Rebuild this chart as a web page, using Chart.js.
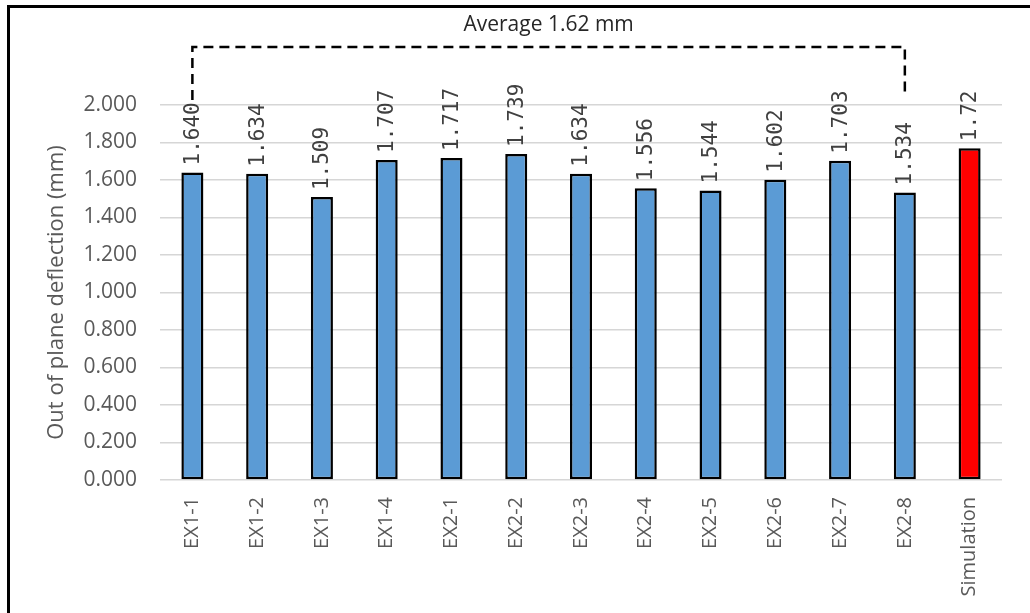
<!DOCTYPE html>
<html lang="en">
<head>
    <meta charset="UTF-8">
    <title>Out of plane deflection</title>
    <script src="https://cdn.jsdelivr.net/npm/chart.js"></script>
    <style>
        body { margin: 0; background: #fff; }
        .wrap {
            position: relative;
            width: 1030px;
            height: 613px;
            overflow: hidden;
        }
        .frame {
            position: absolute;
            left: 7px;
            top: 5px;
            width: 1100px;
            height: 700px;
            border-left: 3px solid #000;
            border-top: 3px solid #000;
            pointer-events: none;
        }
        #deflectionChart { position: absolute; left: 0; top: 0; }
    </style>
</head>
<body>
    <div class="wrap">
        <canvas id="deflectionChart" width="1030" height="613"></canvas>
        <div class="frame"></div>
    </div>
    <script>
        // specimens + simulation
        var categories = ['EX1-1', 'EX1-2', 'EX1-3', 'EX1-4', 'EX2-1', 'EX2-2', 'EX2-3',
                          'EX2-4', 'EX2-5', 'EX2-6', 'EX2-7', 'EX2-8', 'Simulation'];
        var deflection = [1.640, 1.634, 1.509, 1.707, 1.717, 1.739, 1.634,
                          1.556, 1.544, 1.602, 1.703, 1.534, 1.77];
        var valueLabels = ['1.640', '1.634', '1.509', '1.707', '1.717', '1.739', '1.634',
                           '1.556', '1.544', '1.602', '1.703', '1.534', '1.72'];
        var averageText = 'Average 1.62 mm';
        var bracketFrom = 0, bracketTo = 11;  // category indexes spanned by the average bracket

        var barColors = categories.map(function (c) {
            return c === 'Simulation' ? '#ff0000' : '#5b9bd5';
        });

        // rotated value labels above every bar
        var valueLabelPlugin = {
            id: 'valueLabels',
            afterDatasetsDraw: function (chart) {
                var ctx = chart.ctx;
                var meta = chart.getDatasetMeta(0);
                ctx.save();
                ctx.fillStyle = '#404040';
                ctx.font = '21px "DejaVu Sans Mono"';
                ctx.textAlign = 'left';
                ctx.textBaseline = 'middle';
                meta.data.forEach(function (bar, i) {
                    ctx.save();
                    ctx.translate(bar.x, bar.y - 7);
                    ctx.rotate(-Math.PI / 2);
                    ctx.fillText(valueLabels[i], 0, 1);
                    ctx.restore();
                });
                ctx.restore();
            }
        };

        // dashed bracket with the average text
        var averagePlugin = {
            id: 'averageBracket',
            afterDraw: function (chart) {
                var ctx = chart.ctx;
                var x = chart.scales.x;
                var top = chart.chartArea.top;
                var x1 = x.getPixelForValue(bracketFrom);
                var x2 = x.getPixelForValue(bracketTo);
                var yLine = top - 58;
                ctx.save();
                ctx.strokeStyle = '#000';
                ctx.lineWidth = 2.5;
                ctx.setLineDash([10, 6]);
                ctx.beginPath();
                ctx.moveTo(x1, top - 5);
                ctx.lineTo(x1, yLine);
                ctx.lineTo(x2, yLine);
                ctx.lineTo(x2, top - 12);
                ctx.stroke();
                ctx.setLineDash([]);
                ctx.fillStyle = '#262626';
                ctx.font = '21px "Open Sans"';
                ctx.textAlign = 'center';
                ctx.textBaseline = 'middle';
                ctx.fillText(averageText, (x1 + x2) / 2, yLine - 22);
                ctx.restore();
            }
        };

        var ctx = document.getElementById('deflectionChart').getContext('2d');
        var deflectionChart = new Chart(ctx, {
            type: 'bar',
            data: {
                labels: categories,
                datasets: [{
                    data: deflection,
                    backgroundColor: barColors,
                    borderColor: '#000',
                    borderWidth: 2.5,
                    borderSkipped: false,
                    barPercentage: 0.34,
                    categoryPercentage: 1
                }]
            },
            options: {
                responsive: false,
                animation: false,
                layout: { padding: { top: 105, right: 28, left: 0, bottom: 0 } },
                plugins: {
                    legend: { display: false },
                    tooltip: { enabled: false }
                },
                scales: {
                    x: {
                        grid: { display: false, drawTicks: false },
                        border: { display: false },
                        ticks: {
                            color: '#595959',
                            font: { family: 'Open Sans', size: 20 },
                            minRotation: 90,
                            maxRotation: 90,
                            padding: 17,
                            autoSkip: false
                        },
                        afterFit: function (s) { s.height = 133; }
                    },
                    y: {
                        min: 0,
                        max: 2,
                        grid: { color: '#d6d6d6', lineWidth: 1.5, drawTicks: false },
                        border: { display: false },
                        ticks: {
                            stepSize: 0.2,
                            color: '#595959',
                            font: { family: 'Open Sans', size: 21 },
                            padding: 23,
                            callback: function (v) { return v.toFixed(3); }
                        },
                        title: {
                            display: true,
                            text: 'Out of plane deflection (mm)',
                            color: '#595959',
                            font: { family: 'Open Sans', size: 22 },
                            padding: { top: 44, bottom: 0 }
                        },
                        afterFit: function (s) { s.width = 160; }
                    }
                }
            },
            plugins: [valueLabelPlugin, averagePlugin]
        });
    </script>
</body>
</html>
